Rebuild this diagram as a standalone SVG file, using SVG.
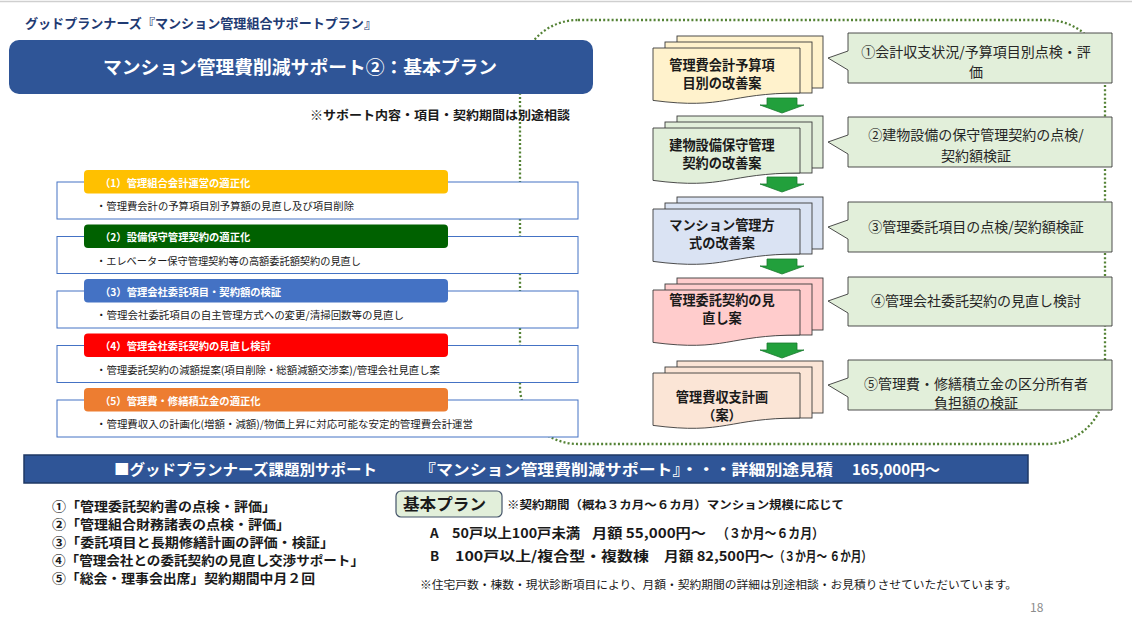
<svg xmlns="http://www.w3.org/2000/svg" width="1132" height="640" viewBox="0 0 1132 640">
<defs>
<style>
text{font-family:'Noto Sans CJK JP','Noto Sans',sans-serif;}
.hdr{font-size:10.3px;font-weight:bold;fill:#ffffff;}
.body{font-size:10.3px;fill:#1a1a1a;}
.box{fill:#ffffff;stroke:#4472c4;stroke-width:1;}
.doc{stroke:#3a3a3a;stroke-width:0.9;}
.ntx{font-size:13.2px;font-weight:bold;fill:#1a1a1a;text-anchor:middle;}
.call{fill:#e2efda;stroke:#3a3a3a;stroke-width:0.9;}
.ctx{font-size:14px;fill:#262626;text-anchor:middle;}
.arrow{fill:#22a03c;stroke:#1a7a2e;stroke-width:0.8;}
.lst{font-size:13px;font-weight:bold;fill:#1a1a1a;}
.pl{font-size:13.5px;font-weight:bold;fill:#1a1a1a;}
</style>
</defs>
<rect x="0" y="0" width="1132" height="640" fill="#ffffff"/>
<line x1="0" y1="1.5" x2="1132" y2="1.5" stroke="#cfcfcf" stroke-width="1.5"/>

<!-- dotted boundary -->
<g id="boundary">
<rect x="520" y="20" width="585" height="424" rx="58" ry="58" fill="none" stroke="#548235" stroke-width="2.3" stroke-dasharray="2 2.2"/>
</g>

<g id="title">
<text x="25" y="28" font-size="13" font-weight="bold" fill="#1f3b73" textLength="352" lengthAdjust="spacingAndGlyphs">グッドプランナーズ『マンション管理組合サポートプラン』</text>
<rect x="9" y="40" width="584" height="54" rx="10" fill="#2f5597"/>
<text x="300" y="74" font-size="18" font-weight="bold" fill="#ffffff" text-anchor="middle" textLength="394" lengthAdjust="spacingAndGlyphs">マンション管理費削減サポート②：基本プラン</text>
<text x="310" y="120" font-size="12.5" font-weight="bold" fill="#1a1a1a" textLength="260" lengthAdjust="spacingAndGlyphs">※サポート内容・項目・契約期間は別途相談</text>
</g>

<!-- left list -->
<g id="item1">
<rect class="box" x="57" y="182" width="521" height="37"/>
<rect x="84" y="170" width="364" height="23.5" rx="4" fill="#ffc000"/>
<text class="hdr" x="100" y="186.5">（1）管理組合会計運営の適正化</text>
<text class="body" x="96" y="210" textLength="258" lengthAdjust="spacingAndGlyphs">・管理費会計の予算項目別予算額の見直し及び項目削除</text>
</g>
<g id="item2">
<rect class="box" x="57" y="236.5" width="521" height="37"/>
<rect x="84" y="224.5" width="364" height="23.5" rx="4" fill="#006100"/>
<text class="hdr" x="100" y="241">（2）設備保守管理契約の適正化</text>
<text class="body" x="96" y="264.5" textLength="265" lengthAdjust="spacingAndGlyphs">・エレベーター保守管理契約等の高額委託額契約の見直し</text>
</g>
<g id="item3">
<rect class="box" x="57" y="291" width="521" height="37"/>
<rect x="84" y="279" width="364" height="23.5" rx="4" fill="#4472c4"/>
<text class="hdr" x="100" y="295.5">（3）管理会社委託項目・契約額の検証</text>
<text class="body" x="96" y="319" textLength="308" lengthAdjust="spacingAndGlyphs">・管理会社委託項目の自主管理方式への変更/清掃回数等の見直し</text>
</g>
<g id="item4">
<rect class="box" x="57" y="345.5" width="521" height="37"/>
<rect x="84" y="333.5" width="364" height="23.5" rx="4" fill="#ff0000"/>
<text class="hdr" x="100" y="350">（4）管理会社委託契約の見直し検討</text>
<text class="body" x="96" y="373.5" textLength="344" lengthAdjust="spacingAndGlyphs">・管理委託契約の減額提案(項目削除・総額減額交渉案)/管理会社見直し案</text>
</g>
<g id="item5">
<rect class="box" x="57" y="400" width="521" height="37"/>
<rect x="84" y="388" width="364" height="23.5" rx="4" fill="#ed7d31"/>
<text class="hdr" x="100" y="404.5">（5）管理費・修繕積立金の適正化</text>
<text class="body" x="96" y="428" textLength="377" lengthAdjust="spacingAndGlyphs">・管理費収入の計画化(増額・減額)/物価上昇に対応可能な安定的管理費会計運営</text>
</g>

<!-- connectors (block arrows) -->
<g id="connectors">
<path class="arrow" d="M767,98 H797 V105 H804 L782,113 L760,105 H767 Z"/>
<path class="arrow" d="M767,177 H797 V184 H804 L782,192 L760,184 H767 Z"/>
<path class="arrow" d="M767,259 H797 V266 H804 L782,274 L760,266 H767 Z"/>
<path class="arrow" d="M767,343 H797 V350 H804 L782,358 L760,350 H767 Z"/>
</g>

<!-- document nodes -->
<g id="node1">
<rect class="doc" x="677" y="36" width="146" height="52" fill="#fff2cc"/>
<rect class="doc" x="665" y="42" width="147" height="51" fill="#fff2cc"/>
<path class="doc" d="M653,48 H800 V93 C726.5,93 726.5,110 653,100.4 Z" fill="#fff2cc"/>
<text class="ntx" x="722" y="70">管理費会計予算項</text>
<text class="ntx" x="722" y="88">目別の改善案</text>
</g>
<g id="node2">
<rect class="doc" x="677" y="116" width="146" height="52" fill="#e2efda"/>
<rect class="doc" x="665" y="122" width="147" height="51" fill="#e2efda"/>
<path class="doc" d="M653,128 H800 V173 C726.5,173 726.5,190 653,180.4 Z" fill="#e2efda"/>
<text class="ntx" x="722" y="150">建物設備保守管理</text>
<text class="ntx" x="722" y="168">契約の改善案</text>
</g>
<g id="node3">
<rect class="doc" x="677" y="197" width="146" height="52" fill="#dae3f3"/>
<rect class="doc" x="665" y="203" width="147" height="51" fill="#dae3f3"/>
<path class="doc" d="M653,209 H800 V254 C726.5,254 726.5,271 653,261.4 Z" fill="#dae3f3"/>
<text class="ntx" x="722" y="230">マンション管理方</text>
<text class="ntx" x="722" y="248">式の改善案</text>
</g>
<g id="node4">
<rect class="doc" x="677" y="278" width="146" height="52" fill="#ffcccc"/>
<rect class="doc" x="665" y="284" width="147" height="51" fill="#ffcccc"/>
<path class="doc" d="M653,290 H800 V335 C726.5,335 726.5,352 653,342.4 Z" fill="#ffcccc"/>
<text class="ntx" x="722" y="305">管理委託契約の見</text>
<text class="ntx" x="722" y="323">直し案</text>
</g>
<g id="node5">
<rect class="doc" x="677" y="361" width="146" height="52" fill="#fbe5d6"/>
<rect class="doc" x="665" y="367" width="147" height="51" fill="#fbe5d6"/>
<path class="doc" d="M653,373 H800 V418 C726.5,418 726.5,435 653,425.4 Z" fill="#fbe5d6"/>
<text class="ntx" x="722" y="402">管理費収支計画</text>
<text class="ntx" x="722" y="420">（案）</text>
</g>

<!-- callouts -->
<g id="callout1">
<path class="call" d="M848,33 H1112 V83 H848 V70 L828,58 L848,51 Z"/>
<text class="ctx" x="976" y="57">①会計収支状況/予算項目別点検・評</text>
<text class="ctx" x="976" y="77">価</text>
</g>
<g id="callout2">
<path class="call" d="M848,117 H1112 V167 H848 V154 L828,142 L848,135 Z"/>
<text class="ctx" x="976" y="140">②建物設備の保守管理契約の点検/</text>
<text class="ctx" x="976" y="161">契約額検証</text>
</g>
<g id="callout3">
<path class="call" d="M848,202 H1112 V252 H848 V239 L828,227 L848,220 Z"/>
<text class="ctx" x="976" y="232">③管理委託項目の点検/契約額検証</text>
</g>
<g id="callout4">
<path class="call" d="M848,277 H1112 V326 H848 V313 L828,301 L848,294 Z"/>
<text class="ctx" x="976" y="306">④管理会社委託契約の見直し検討</text>
</g>
<g id="callout5">
<path class="call" d="M848,360 H1112 V410 H848 V397 L828,385 L848,378 Z"/>
<text class="ctx" x="976" y="389">⑤管理費・修繕積立金の区分所有者</text>
<text class="ctx" x="976" y="408">負担額の検証</text>
</g>

<!-- bottom banner -->
<g id="banner">
<rect x="24" y="455" width="1004" height="28" fill="#2f5597" stroke="#1f3864" stroke-width="1.5"/>
<text x="114" y="475" font-size="15" font-weight="bold" fill="#ffffff" textLength="263" lengthAdjust="spacingAndGlyphs">■グッドプランナーズ課題別サポート</text>
<text x="419" y="475" font-size="15" font-weight="bold" fill="#ffffff" textLength="414" lengthAdjust="spacingAndGlyphs">『マンション管理費削減サポート』・・・詳細別途見積</text>
<text x="852" y="475" font-size="15" font-weight="bold" fill="#ffffff">165,000円～</text>
</g>

<!-- bottom list -->
<g id="supportlist">
<text class="lst" x="52" y="511" textLength="224" lengthAdjust="spacingAndGlyphs">①「管理委託契約書の点検・評価」</text>
<text class="lst" x="52" y="529" textLength="238" lengthAdjust="spacingAndGlyphs">②「管理組合財務諸表の点検・評価」</text>
<text class="lst" x="52" y="547" textLength="282" lengthAdjust="spacingAndGlyphs">③「委託項目と長期修繕計画の評価・検証」</text>
<text class="lst" x="52" y="565" textLength="312" lengthAdjust="spacingAndGlyphs">④「管理会社との委託契約の見直し交渉サポート」</text>
<text class="lst" x="52" y="583" textLength="263" lengthAdjust="spacingAndGlyphs">⑤「総会・理事会出席」契約期間中月２回</text>
</g>

<g id="plan">
<rect x="396" y="491" width="106" height="26" rx="5" fill="#e2efda" stroke="#44546a" stroke-width="1.2"/>
<text x="403" y="510" font-size="16" font-weight="bold" fill="#1a1a1a" textLength="83" lengthAdjust="spacingAndGlyphs">基本プラン</text>
<text x="507" y="509" font-size="11.5" font-weight="bold" fill="#1a1a1a" textLength="337" lengthAdjust="spacingAndGlyphs">※契約期間（概ね３カ月～６カ月）マンション規模に応じて</text>
<text class="pl" x="430" y="538">A</text>
<text class="pl" x="452" y="538" textLength="128" lengthAdjust="spacingAndGlyphs">50戸以上100戸未満</text>
<text class="pl" x="592" y="538" textLength="114" lengthAdjust="spacingAndGlyphs">月額 55,000円～</text>
<text class="pl" x="717" y="538" textLength="107" lengthAdjust="spacingAndGlyphs">（３か月～６カ月）</text>
<text class="pl" x="430" y="561">B</text>
<text class="pl" x="455" y="561" textLength="194" lengthAdjust="spacingAndGlyphs">100戸以上/複合型・複数棟</text>
<text class="pl" x="664" y="561" textLength="110" lengthAdjust="spacingAndGlyphs">月額 82,500円～</text>
<text class="pl" x="774" y="561" textLength="98" lengthAdjust="spacingAndGlyphs">（３か月～ ６か月）</text>
<text x="420" y="589" font-size="11.5" fill="#1a1a1a" textLength="597" lengthAdjust="spacingAndGlyphs">※住宅戸数・棟数・現状診断項目により、月額・契約期間の詳細は別途相談・お見積りさせていただいています。</text>
<text x="1030" y="612" font-size="12" fill="#8c8c8c">18</text>
</g>
</svg>
